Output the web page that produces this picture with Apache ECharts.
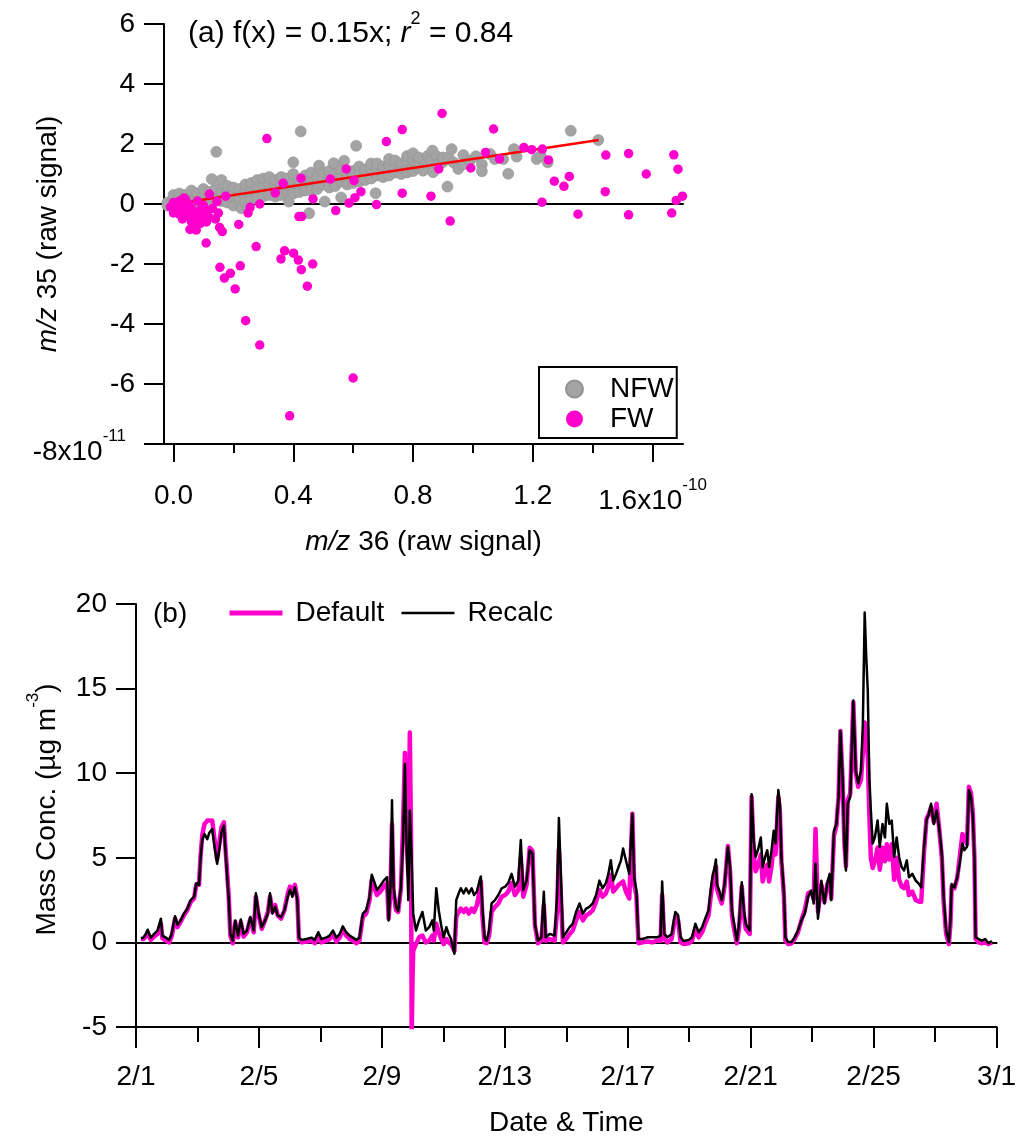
<!DOCTYPE html>
<html>
<head>
<meta charset="utf-8">
<script src="https://cdn.jsdelivr.net/npm/echarts@6/dist/echarts.min.js"></script>
<style>
  html, body { margin: 0; padding: 0; background: #fff; }
  #chart { width: 1019px; height: 1138px; }
</style>
</head>
<body>
<div id="chart"></div>
<script>
// ---------- Panel (a): m/z 35 vs m/z 36 raw signal ----------
// x values are in units of 1e-10, y values in units of 1e-11
const unitRatio = 10; // (1e-10) / (1e-11)
const nfwPoints = [
  [-0.02,0.05],[-0.02,-0.05],
  [0.00,0.15],[0.00,-0.10],[0.00,0.30],
  [0.02,0.00],[0.02,0.20],[0.02,-0.20],[0.02,0.35],
  [0.04,0.10],[0.04,0.30],[0.04,-0.15],
  [0.06,0.05],[0.06,0.25],[0.06,0.45],[0.06,-0.10],
  [0.08,0.15],[0.08,0.35],[0.08,-0.05],
  [0.10,0.10],[0.10,0.30],[0.10,0.50],[0.10,-0.05],
  [0.12,0.20],[0.12,0.40],[0.12,0.05],[0.128,0.83],
  [0.14,0.15],[0.14,0.32],[0.14,0.50],[0.143,1.74],
  [0.16,0.20],[0.16,0.40],[0.16,0.10],[0.16,0.80],
  [0.18,0.25],[0.18,0.45],[0.18,0.05],[0.18,0.60],
  [0.20,0.20],[0.20,0.36],[0.20,0.55],[0.20,0.10],[0.20,-0.05],
  [0.22,0.30],[0.22,0.50],[0.22,0.15],[0.226,-0.14],
  [0.24,0.25],[0.24,0.45],[0.24,0.65],[0.24,0.05],[0.25,-0.08],
  [0.26,0.30],[0.26,0.50],[0.26,0.70],[0.26,0.15],
  [0.28,0.35],[0.28,0.55],[0.28,0.20],[0.28,0.80],
  [0.30,0.40],[0.30,0.60],[0.30,0.25],[0.30,0.85],
  [0.32,0.45],[0.32,0.65],[0.32,0.30],[0.32,0.90],
  [0.34,0.40],[0.34,0.60],[0.34,0.80],[0.34,0.25],
  [0.36,0.50],[0.36,0.70],[0.36,0.30],[0.36,0.90],
  [0.38,0.45],[0.38,0.65],[0.38,0.85],[0.385,0.08],
  [0.40,0.55],[0.40,0.75],[0.40,0.35],[0.40,1.00],[0.40,1.39],
  [0.42,0.60],[0.42,0.80],[0.42,0.40],[0.425,2.42],
  [0.44,0.55],[0.44,0.75],[0.44,0.95],[0.44,0.45],
  [0.453,-0.31],
  [0.46,0.65],[0.46,0.85],[0.46,0.45],[0.46,1.05],
  [0.48,0.70],[0.48,0.90],[0.48,0.50],[0.486,1.28],
  [0.50,0.65],[0.50,0.85],[0.50,1.05],[0.505,0.08],
  [0.52,0.75],[0.52,0.95],[0.52,0.55],[0.52,1.10],
  [0.54,0.80],[0.54,1.00],[0.54,0.60],[0.535,1.36],
  [0.56,0.75],[0.56,0.95],[0.56,1.15],[0.56,0.22],
  [0.58,0.85],[0.58,1.05],[0.58,0.65],[0.57,1.44],
  [0.60,0.90],[0.60,1.10],[0.60,0.70],[0.61,1.94],
  [0.62,0.85],[0.62,1.05],[0.62,1.25],[0.62,0.75],
  [0.64,0.95],[0.64,1.15],[0.64,0.80],
  [0.66,1.00],[0.66,1.20],[0.66,0.85],[0.66,1.35],
  [0.68,0.95],[0.68,1.15],[0.68,1.35],[0.675,0.36],
  [0.70,1.05],[0.70,1.25],[0.70,0.90],
  [0.72,1.10],[0.72,1.30],[0.72,0.95],[0.72,1.50],
  [0.74,1.05],[0.74,1.25],[0.74,1.45],
  [0.76,1.15],[0.76,1.35],[0.76,1.00],
  [0.78,1.20],[0.78,1.40],[0.78,1.05],[0.78,1.60],
  [0.80,1.25],[0.80,1.45],[0.80,1.69],[0.80,1.10],
  [0.82,1.20],[0.82,1.40],[0.82,1.55],
  [0.84,1.30],[0.834,1.11],[0.85,1.61],
  [0.865,1.78],[0.86,1.45],[0.867,1.06],
  [0.879,1.59],[0.88,1.30],
  [0.90,1.40],[0.90,1.55],
  [0.915,0.58],[0.918,1.56],[0.929,1.83],[0.935,1.39],[0.951,1.17],
  [0.968,1.63],[0.968,1.33],[0.99,1.45],[1.01,1.59],[1.03,1.32],[1.03,1.09],
  [1.057,1.67],[1.073,1.50],[1.101,1.50],[1.118,1.01],[1.137,1.83],[1.146,1.58],
  [1.213,1.50],[1.226,1.61],[1.25,1.39],[1.327,2.44],[1.419,2.13]
];
const fwPoints = [
  [-0.01,-0.10],[0.00,0.05],[0.00,-0.30],[0.01,-0.20],[0.02,0.10],[0.02,-0.35],
  [0.03,-0.05],[0.03,-0.50],[0.035,0.20],[0.04,0.15],[0.04,-0.25],[0.05,-0.40],
  [0.05,0.00],[0.055,-0.85],[0.06,-0.60],[0.06,-0.15],[0.07,-0.30],[0.07,-0.76],
  [0.08,-0.50],[0.08,0.10],[0.09,-0.20],[0.09,-0.65],[0.10,-0.40],[0.10,-0.05],
  [0.11,-0.60],[0.11,-0.25],[0.12,0.33],[0.12,-0.45],[0.13,-0.15],[0.14,-0.50],
  [0.145,0.08],[0.15,-0.30],[0.113,-0.48],[0.076,-0.87],
  [0.174,0.26],[0.154,-0.78],[0.163,-0.92],[0.109,-1.30],[0.218,-0.68],
  [0.249,-0.30],[0.256,-0.11],[0.288,0.00],[0.276,-1.42],[0.34,0.37],[0.366,0.69],
  [0.312,2.18],[0.426,0.86],[0.419,-0.42],[0.428,-0.42],[0.466,0.17],[0.524,0.83],
  [0.542,-0.22],[0.577,1.17],[0.586,0.03],[0.603,0.78],[0.606,0.21],[0.626,0.41],
  [0.678,-0.02],[0.711,2.08],[0.764,2.48],[0.764,0.36],[0.86,0.26],
  [0.886,1.17],[0.897,3.02],[0.924,-0.57],[0.993,1.20],[1.042,1.72],[1.069,2.50],
  [1.089,1.50],[1.17,1.88],[1.196,1.81],[1.232,1.83],[1.231,0.06],[1.252,1.47],
  [1.272,0.76],[1.304,0.59],[1.322,0.92],[1.351,-0.34],[1.442,0.41],[1.444,1.63],
  [1.52,1.68],[1.52,-0.36],[1.579,1.00],[1.664,-0.30],[1.671,1.64],[1.679,0.12],
  [1.685,1.16],[1.70,0.26],
  [0.155,-2.11],[0.17,-2.47],[0.19,-2.31],[0.206,-2.83],[0.223,-2.06],[0.241,-3.89],
  [0.288,-4.70],[0.359,-1.83],[0.371,-1.56],[0.401,-1.64],[0.417,-1.87],[0.427,-2.19],
  [0.465,-2.00],[0.447,-2.74],[0.60,-5.80],[0.388,-7.06]
];
const fitSlope = 0.15;
const fitR2 = 0.84;
const fitXRange = [-0.02, 1.42];
const xMajorA = [0, 0.4, 0.8, 1.2, 1.6];
const xMinorA = [0.2, 0.6, 1.0, 1.4];

// ---------- Panel (b): mass concentration, x = days since 2/1 00:00 ----------
const dateLabels = ['2/1', '2/5', '2/9', '2/13', '2/17', '2/21', '2/25', '3/1'];
const recalcSeries = [
  [0.16,0.25],[0.24,0.28],[0.32,0.5],[0.38,0.75],[0.48,0.28],[0.59,0.5],[0.70,0.7],[0.81,1.4],[0.86,0.4],[0.97,0.28],
  [1.08,0.15],[1.16,0.5],[1.27,1.55],[1.35,1.05],[1.45,1.3],[1.56,1.7],[1.67,2.0],[1.78,2.5],[1.89,2.7],[1.96,3.5],
  [2.05,3.4],[2.10,5.0],[2.16,6.1],[2.23,6.4],[2.32,6.1],[2.39,6.5],[2.48,6.7],[2.56,5.6],[2.64,4.65],[2.72,5.6],
  [2.78,6.5],[2.86,6.9],[2.91,5.4],[2.96,4.05],[3.02,2.5],[3.07,0.5],[3.15,0.1],[3.23,1.3],[3.32,0.4],[3.41,1.35],
  [3.50,0.5],[3.61,0.7],[3.72,1.5],[3.83,0.7],[3.90,2.9],[3.99,1.7],[4.09,0.9],[4.20,1.3],[4.29,1.7],[4.36,2.9],
  [4.44,1.7],[4.53,2.1],[4.61,1.6],[4.72,1.5],[4.83,1.9],[4.94,2.7],[5.01,3.1],[5.09,2.7],[5.17,3.25],[5.25,2.5],
  [5.30,0.28],[5.39,0.15],[5.55,0.2],[5.71,0.28],[5.82,0.15],[5.93,0.6],[6.03,0.2],[6.20,0.3],[6.30,0.4],[6.41,0.7],
  [6.52,0.28],[6.63,0.5],[6.73,0.95],[6.84,0.6],[6.95,0.4],[7.06,0.28],[7.17,0.15],[7.27,0.28],[7.38,1.7],[7.49,1.9],
  [7.60,2.7],[7.67,4.0],[7.76,3.55],[7.84,3.1],[7.95,3.35],[8.06,3.65],[8.17,3.85],[8.22,1.3],[8.28,3.3],[8.33,8.4],
  [8.38,3.3],[8.46,2.1],[8.53,1.85],[8.62,3.3],[8.69,6.0],[8.75,10.55],[8.80,6.0],[8.86,2.5],[8.91,7.8],[8.97,4.85],
  [9.02,1.7],[9.11,0.7],[9.21,1.3],[9.32,1.8],[9.43,0.7],[9.54,0.9],[9.64,1.3],[9.69,0.7],[9.77,3.2],[9.85,1.9],
  [9.93,1.0],[10.01,0.3],[10.10,0.9],[10.17,0.5],[10.25,0.2],[10.36,-0.67],[10.42,2.5],[10.50,2.9],[10.57,3.2],[10.66,2.9],
  [10.74,3.2],[10.83,2.9],[10.92,3.2],[11.00,2.8],[11.09,3.0],[11.18,3.65],[11.22,3.9],[11.27,2.1],[11.34,0.3],[11.41,0.1],
  [11.49,0.7],[11.57,2.3],[11.68,2.5],[11.79,2.8],[11.90,3.2],[12.01,3.3],[12.11,3.5],[12.22,4.05],[12.33,3.3],[12.44,3.65],
  [12.52,6.05],[12.60,3.1],[12.71,3.65],[12.81,5.45],[12.90,5.25],[12.98,1.1],[13.08,0.1],[13.19,0.3],[13.27,3.0],[13.33,0.3],
  [13.46,0.5],[13.62,0.4],[13.70,2.7],[13.76,7.35],[13.83,3.65],[13.89,0.3],[14.00,0.6],[14.11,0.9],[14.21,1.1],[14.32,1.8],
  [14.43,2.3],[14.54,1.7],[14.65,2.0],[14.75,2.1],[14.86,2.3],[14.97,2.8],[15.08,3.65],[15.18,3.2],[15.29,3.5],[15.37,4.05],
  [15.45,4.85],[15.53,3.65],[15.62,4.05],[15.70,4.45],[15.78,4.85],[15.85,5.55],[15.94,4.85],[16.05,4.05],[16.15,7.6],[16.21,3.85],
  [16.28,3.1],[16.35,0.2],[16.48,0.2],[16.64,0.3],[16.80,0.3],[16.96,0.3],[17.07,0.4],[17.12,3.6],[17.19,0.5],[17.29,0.3],
  [17.43,0.5],[17.50,1.3],[17.55,1.8],[17.64,1.6],[17.72,0.3],[17.82,0.08],[17.99,0.15],[18.09,0.3],[18.20,1.1],[18.31,0.6],
  [18.42,0.9],[18.52,1.4],[18.63,1.9],[18.70,3.1],[18.76,3.95],[18.83,4.45],[18.87,4.9],[18.90,3.45],[18.98,3.05],[19.06,2.5],
  [19.15,3.45],[19.26,5.65],[19.33,4.45],[19.39,1.9],[19.46,1.1],[19.55,0.1],[19.62,1.1],[19.71,3.55],[19.78,1.9],[19.84,1.1],
  [19.90,1.2],[19.97,0.7],[20.03,8.75],[20.10,6.0],[20.16,5.05],[20.25,5.55],[20.33,6.2],[20.39,4.45],[20.47,5.05],[20.54,5.45],
  [20.60,4.45],[20.68,5.45],[20.75,6.6],[20.81,5.85],[20.90,9.0],[20.95,8.2],[21.00,5.05],[21.08,3.05],[21.13,0.3],[21.22,0.02],
  [21.33,0.02],[21.43,0.3],[21.54,0.7],[21.65,1.3],[21.76,1.7],[21.87,2.7],[21.97,3.05],[22.05,2.3],[22.11,4.65],[22.19,1.4],
  [22.30,3.65],[22.40,2.3],[22.49,3.45],[22.57,4.05],[22.62,2.5],[22.71,6.6],[22.79,7.0],[22.86,8.6],[22.92,12.5],[22.99,9.8],
  [23.05,5.85],[23.10,4.25],[23.16,8.2],[23.24,8.6],[23.34,14.3],[23.42,10.15],[23.50,9.4],[23.59,10.15],[23.65,12.9],[23.71,19.5],
  [23.76,16.9],[23.81,14.9],[23.86,9.8],[23.91,7.8],[23.97,5.85],[24.04,6.2],[24.13,7.2],[24.20,5.65],[24.29,7.0],[24.37,6.2],
  [24.43,8.2],[24.51,7.0],[24.59,7.2],[24.67,5.05],[24.75,6.2],[24.83,5.05],[24.91,4.45],[24.99,4.25],[25.08,4.85],[25.15,3.85],
  [25.26,4.05],[25.37,3.65],[25.48,3.45],[25.55,3.25],[25.64,5.65],[25.72,7.2],[25.80,7.6],[25.87,8.2],[25.96,7.0],[26.05,7.8],
  [26.13,6.8],[26.22,5.25],[26.28,2.7],[26.36,0.7],[26.45,0.02],[26.50,1.3],[26.54,3.45],[26.63,3.25],[26.72,3.85],[26.80,4.65],
  [26.89,5.85],[26.95,5.45],[27.04,5.65],[27.10,9.0],[27.17,8.6],[27.23,7.4],[27.28,5.05],[27.32,0.3],[27.42,0.2],[27.52,0.1],
  [27.63,0.2],[27.74,-0.05],[27.85,0.08]
];
const defaultSeries = [
  [0.16,0.2],[0.24,0.2],[0.32,0.35],[0.38,0.55],[0.48,0.15],[0.59,0.35],[0.70,0.5],[0.81,1.1],[0.86,0.25],[0.97,0.1],
  [1.08,0.0],[1.16,0.35],[1.27,1.4],[1.35,0.9],[1.45,1.2],[1.56,1.6],[1.67,1.9],[1.78,2.4],[1.89,2.6],[1.96,3.4],
  [2.05,3.4],[2.10,5.1],[2.16,6.4],[2.23,7.0],[2.32,7.2],[2.39,7.2],[2.48,7.2],[2.56,6.0],[2.64,4.9],[2.72,6.0],
  [2.78,6.8],[2.86,7.1],[2.91,5.6],[2.96,4.3],[3.02,2.6],[3.07,0.4],[3.15,-0.05],[3.23,1.2],[3.32,0.3],[3.41,1.2],
  [3.50,0.35],[3.61,0.6],[3.72,1.4],[3.83,0.6],[3.90,2.7],[3.99,1.6],[4.09,0.8],[4.20,1.3],[4.29,1.8],[4.36,2.7],
  [4.44,1.8],[4.53,2.2],[4.61,1.6],[4.72,1.4],[4.83,1.9],[4.94,2.9],[5.01,3.3],[5.09,2.9],[5.17,3.4],[5.25,2.6],
  [5.30,0.2],[5.39,0.0],[5.55,0.05],[5.71,0.1],[5.82,-0.05],[5.93,0.4],[6.03,0.0],[6.20,0.1],[6.30,0.2],[6.41,0.5],
  [6.52,0.05],[6.63,0.3],[6.73,0.75],[6.84,0.4],[6.95,0.2],[7.06,0.1],[7.17,-0.05],[7.27,0.1],[7.38,1.5],[7.49,1.7],
  [7.60,2.5],[7.67,3.7],[7.76,3.2],[7.84,2.8],[7.95,3.0],[8.06,3.3],[8.17,3.5],[8.22,1.4],[8.28,3.0],[8.33,7.0],
  [8.38,3.0],[8.46,1.9],[8.53,1.8],[8.62,3.2],[8.69,7.0],[8.75,11.2],[8.80,6.5],[8.86,4.0],[8.91,12.4],[8.95,6.0],
  [8.97,-5.5],[9.00,-2.0],[9.02,-0.5],[9.11,-0.1],[9.21,0.3],[9.32,0.4],[9.43,0.0],[9.54,0.1],[9.64,0.4],[9.69,0.1],
  [9.77,1.1],[9.85,0.6],[9.93,0.2],[10.01,-0.1],[10.10,0.2],[10.17,0.0],[10.25,-0.1],[10.36,-0.5],[10.42,1.5],[10.50,1.8],
  [10.57,2.0],[10.66,1.8],[10.74,2.0],[10.83,1.7],[10.92,2.0],[11.00,1.8],[11.09,2.2],[11.18,3.0],[11.22,3.6],[11.27,1.6],
  [11.34,0.0],[11.41,-0.05],[11.49,0.4],[11.57,1.8],[11.68,2.1],[11.79,2.3],[11.90,2.7],[12.01,2.8],[12.11,3.0],[12.22,3.5],
  [12.33,2.8],[12.44,3.1],[12.52,5.0],[12.60,2.7],[12.71,3.4],[12.81,5.6],[12.90,5.4],[12.98,1.0],[13.08,-0.05],[13.19,0.1],
  [13.27,2.2],[13.33,0.1],[13.46,0.2],[13.62,0.1],[13.70,1.8],[13.76,5.5],[13.83,2.5],[13.89,0.0],[14.00,0.2],[14.11,0.5],
  [14.21,0.7],[14.32,1.3],[14.43,1.8],[14.54,1.3],[14.65,1.6],[14.75,1.7],[14.86,1.9],[14.97,2.4],[15.08,3.1],[15.18,2.7],
  [15.29,2.9],[15.37,3.3],[15.45,4.0],[15.53,3.0],[15.62,3.2],[15.70,3.4],[15.78,3.5],[15.85,3.6],[15.94,3.0],[16.05,2.6],
  [16.15,7.6],[16.21,3.4],[16.28,2.8],[16.35,-0.05],[16.48,0.0],[16.64,0.05],[16.80,0.0],[16.96,0.1],[17.07,0.1],[17.12,2.8],
  [17.19,0.2],[17.29,0.0],[17.43,0.2],[17.50,1.0],[17.55,1.5],[17.64,1.3],[17.72,0.0],[17.82,-0.1],[17.99,-0.05],[18.09,0.1],
  [18.20,0.8],[18.31,0.3],[18.42,0.6],[18.52,1.1],[18.63,1.6],[18.70,2.7],[18.76,3.5],[18.83,4.0],[18.87,4.5],[18.90,3.2],
  [18.98,2.7],[19.06,2.3],[19.15,3.3],[19.26,5.7],[19.33,4.2],[19.39,1.6],[19.46,0.8],[19.55,-0.05],[19.62,0.8],[19.71,3.3],
  [19.78,1.6],[19.84,0.8],[19.90,0.9],[19.97,0.5],[20.03,8.6],[20.10,5.2],[20.16,4.2],[20.25,4.6],[20.33,5.2],[20.39,3.6],
  [20.47,4.2],[20.54,4.6],[20.60,3.6],[20.68,4.5],[20.75,5.8],[20.81,5.2],[20.90,8.6],[20.95,7.8],[21.00,4.8],[21.08,2.8],
  [21.13,0.1],[21.22,-0.1],[21.33,-0.05],[21.43,0.2],[21.54,0.6],[21.65,1.3],[21.76,1.9],[21.87,2.9],[21.97,3.0],[22.05,2.6],
  [22.11,6.7],[22.19,1.8],[22.30,3.4],[22.40,2.4],[22.49,3.4],[22.57,3.8],[22.62,2.6],[22.71,6.3],[22.79,6.9],[22.86,8.6],
  [22.92,12.5],[22.99,9.6],[23.05,5.9],[23.10,4.5],[23.16,8.4],[23.24,8.8],[23.34,14.2],[23.42,10.0],[23.50,9.2],[23.59,9.6],
  [23.65,11.2],[23.71,13.0],[23.76,12.0],[23.81,11.0],[23.86,7.6],[23.91,5.0],[23.97,4.4],[24.04,4.8],[24.13,5.6],[24.20,4.3],
  [24.29,5.6],[24.37,4.8],[24.43,5.8],[24.51,4.9],[24.59,5.8],[24.67,3.7],[24.75,5.0],[24.83,3.7],[24.91,3.3],[24.99,3.2],
  [25.08,3.6],[25.15,2.8],[25.26,3.0],[25.37,2.5],[25.48,2.4],[25.55,2.4],[25.64,5.3],[25.72,7.3],[25.80,7.6],[25.87,8.0],
  [25.96,7.1],[26.05,8.2],[26.13,6.8],[26.22,5.0],[26.28,2.4],[26.36,0.5],[26.45,-0.1],[26.50,1.1],[26.54,3.3],[26.63,3.2],
  [26.72,3.8],[26.80,5.0],[26.89,6.4],[26.95,6.2],[27.04,5.8],[27.10,9.2],[27.17,8.8],[27.23,7.6],[27.28,5.0],[27.32,0.2],
  [27.42,0.0],[27.52,-0.05],[27.63,0.0],[27.74,-0.1],[27.85,0.0]
];

// ---------- styling ----------
const FONT = "'Liberation Sans', Arial, Helvetica, sans-serif";
const FS = 28;
const BLACK = '#000000';
const MAGENTA = '#ff00cc';
const GRAY = '#a4a4a4';
const axisLineStyle = { color: BLACK, width: 2 };
const xMinA = -0.0317, xMaxA = 1.7017;

const chart = echarts.init(document.getElementById('chart'), null, { renderer: 'canvas' });

const option = {
  animation: false,
  backgroundColor: '#ffffff',
  textStyle: { fontFamily: FONT, color: BLACK },
  grid: [
    { left: 164, top: 24, width: 519, height: 420 },
    { left: 136, top: 604, width: 867, height: 423 }
  ],
  xAxis: [
    { // panel (a) main axis
      gridIndex: 0, type: 'value', min: xMinA, max: xMaxA, position: 'bottom',
      axisLine: { onZero: false, lineStyle: axisLineStyle },
      axisTick: { customValues: xMajorA, length: 18, lineStyle: axisLineStyle },
      axisLabel: {
        customValues: xMajorA, margin: 38, fontSize: FS, fontFamily: FONT, color: BLACK, lineHeight: 28,
        formatter: v => Math.abs(v - 1.6) < 1e-9 ? '{m|1.6x10}{s|-10}' : v.toFixed(1),
        rich: {
          m: { fontSize: FS, fontFamily: FONT, lineHeight: 28, padding: [11, 0, 0, 0] },
          s: { fontSize: 17, fontFamily: FONT, lineHeight: 17, padding: [0, 0, 22, 0] }
        }
      },
      splitLine: { show: false },
      name: '{i|m/z} 36 (raw signal)', nameLocation: 'middle', nameGap: 84, nameMoveOverlap: false,
      nameTextStyle: { fontSize: FS, fontFamily: FONT, color: BLACK, lineHeight: 28,
        rich: { i: { fontStyle: 'italic', fontSize: FS, fontFamily: FONT, lineHeight: 28 } } }
    },
    { // panel (a) minor ticks
      gridIndex: 0, type: 'value', min: xMinA, max: xMaxA, position: 'bottom',
      axisLine: { show: false, onZero: false },
      axisTick: { customValues: xMinorA, length: 9, lineStyle: axisLineStyle },
      axisLabel: { show: false }, splitLine: { show: false }
    },
    { // panel (a) zero line
      gridIndex: 0, type: 'value', min: xMinA, max: xMaxA,
      axisLine: { show: true, onZero: true, lineStyle: axisLineStyle },
      axisTick: { show: false }, axisLabel: { show: false }, splitLine: { show: false }
    },
    { // panel (b) time axis
      gridIndex: 1, type: 'value', min: 0, max: 28, interval: 4, position: 'bottom',
      axisLine: { onZero: false, lineStyle: axisLineStyle },
      axisTick: { length: 21, lineStyle: axisLineStyle },
      minorTick: { show: true, splitNumber: 2, length: 15, lineStyle: axisLineStyle },
      axisLabel: { margin: 36, fontSize: FS, fontFamily: FONT, color: BLACK, lineHeight: 28,
        formatter: v => dateLabels[Math.round(v / 4)] },
      splitLine: { show: false }, minorSplitLine: { show: false },
      name: 'Date & Time', nameLocation: 'middle', nameGap: 82, nameMoveOverlap: false,
      nameTextStyle: { fontSize: FS, fontFamily: FONT, color: BLACK, lineHeight: 28 }
    },
    { // panel (b) zero line
      gridIndex: 1, type: 'value', min: 0, max: 28,
      axisLine: { show: true, onZero: true, lineStyle: axisLineStyle },
      axisTick: { show: false }, axisLabel: { show: false }, splitLine: { show: false }
    }
  ],
  yAxis: [
    {
      gridIndex: 0, type: 'value', min: -8, max: 6, interval: 2,
      axisLine: { onZero: false, lineStyle: axisLineStyle },
      axisTick: { length: 20, lineStyle: axisLineStyle },
      axisLabel: {
        margin: 29, fontSize: FS, fontFamily: FONT, color: BLACK, lineHeight: 28,
        formatter: v => v === -8 ? '{m|-8x10}{s|-11}' : String(v),
        rich: {
          m: { fontSize: FS, fontFamily: FONT, lineHeight: 28, padding: [16, 0, 0, 0] },
          s: { fontSize: 17, fontFamily: FONT, lineHeight: 17, padding: [6, 9, 21, 0] }
        }
      },
      splitLine: { show: false },
      name: '{i|m/z} 35 (raw signal)', nameLocation: 'middle', nameRotate: 90, nameGap: 102,
      nameMoveOverlap: false,
      nameTextStyle: { fontSize: FS, fontFamily: FONT, color: BLACK, lineHeight: 28,
        rich: { i: { fontStyle: 'italic', fontSize: FS, fontFamily: FONT, lineHeight: 28 } } }
    },
    {
      gridIndex: 1, type: 'value', min: -5, max: 20, interval: 5,
      axisLine: { onZero: false, lineStyle: axisLineStyle },
      axisTick: { length: 20, lineStyle: axisLineStyle },
      axisLabel: { margin: 29, fontSize: FS, fontFamily: FONT, color: BLACK },
      splitLine: { show: false },
      name: '{t|Mass Conc. (µg m}{s|-3}{t|)}', nameLocation: 'middle', nameRotate: 90, nameGap: 79,
      nameMoveOverlap: false,
      nameTextStyle: { fontSize: FS, fontFamily: FONT, color: BLACK, padding: [0, 0, 0, 12],
        rich: {
          t: { fontSize: FS, fontFamily: FONT, lineHeight: 28, padding: [8, 0, 0, 0] },
          s: { fontSize: 17, fontFamily: FONT, lineHeight: 17, padding: [0, 0, 19, 0] }
        } }
    }
  ],
  legend: [
    {
      data: [{ name: 'NFW', icon: 'circle' }, { name: 'FW', icon: 'circle' }],
      orient: 'vertical', left: 539, top: 367,
      padding: [8, 3, 5, 26], itemWidth: 17, itemHeight: 17, itemGap: 2,
      borderColor: BLACK, borderWidth: 2, backgroundColor: '#ffffff',
      textStyle: { fontSize: FS, fontFamily: FONT, color: BLACK, lineHeight: 28, padding: [0, 0, 0, 22] },
      selectedMode: false
    },
    {
      data: [
        { name: 'Default', itemStyle: { opacity: 0 }, lineStyle: { color: MAGENTA, width: 5 } },
        { name: 'Recalc', itemStyle: { opacity: 0 }, lineStyle: { color: BLACK, width: 2.5 } }
      ],
      orient: 'horizontal', left: 227, top: 599, padding: 0,
      itemWidth: 53, itemHeight: 14, itemGap: 16,
      textStyle: { fontSize: FS, fontFamily: FONT, color: BLACK, lineHeight: 28, padding: [0, 0, 0, 8] },
      selectedMode: false
    }
  ],
  graphic: [
    {
      type: 'text', left: 188, top: 7, z: 10,
      style: {
        text: '{t|(a) f(x) = ' + fitSlope + 'x; }{i|r}{s|2}{t| = ' + fitR2 + '}',
        fill: BLACK,
        rich: {
          t: { fontSize: 30, fontFamily: FONT, lineHeight: 30, padding: [12, 0, 0, 0] },
          i: { fontSize: 30, fontFamily: FONT, fontStyle: 'italic', lineHeight: 30, padding: [12, 0, 0, 0] },
          s: { fontSize: 18, fontFamily: FONT, lineHeight: 18, padding: [3, 0, 21, 0] }
        }
      }
    },
    {
      type: 'text', left: 153, top: 600, z: 10,
      style: { text: '(b)', fill: BLACK, fontSize: FS, fontFamily: FONT, lineHeight: 28 }
    }
  ],
  series: [
    {
      name: 'NFW', type: 'scatter', xAxisIndex: 0, yAxisIndex: 0, z: 2,
      symbol: 'circle', symbolSize: 11,
      itemStyle: { color: GRAY, borderColor: '#929292', borderWidth: 0.6, opacity: 1 },
      data: nfwPoints
    },
    {
      name: 'fit', type: 'line', xAxisIndex: 0, yAxisIndex: 0, z: 3,
      symbol: 'none', silent: true,
      lineStyle: { color: '#ff0000', width: 2.5 },
      data: fitXRange.map(x => [x, fitSlope * x * unitRatio])
    },
    {
      name: 'FW', type: 'scatter', xAxisIndex: 0, yAxisIndex: 0, z: 4,
      symbol: 'circle', symbolSize: 9.5,
      itemStyle: { color: MAGENTA, opacity: 1 },
      data: fwPoints
    },
    {
      name: 'Default', type: 'line', xAxisIndex: 3, yAxisIndex: 1, z: 2,
      symbol: 'none', showSymbol: false, clip: true,
      itemStyle: { color: MAGENTA },
      lineStyle: { color: MAGENTA, width: 4.5, join: 'round' },
      data: defaultSeries
    },
    {
      name: 'Recalc', type: 'line', xAxisIndex: 3, yAxisIndex: 1, z: 3,
      symbol: 'none', showSymbol: false, clip: true,
      itemStyle: { color: BLACK },
      lineStyle: { color: BLACK, width: 2.5, join: 'round' },
      data: recalcSeries
    }
  ]
};

chart.setOption(option);
</script>
</body>
</html>
